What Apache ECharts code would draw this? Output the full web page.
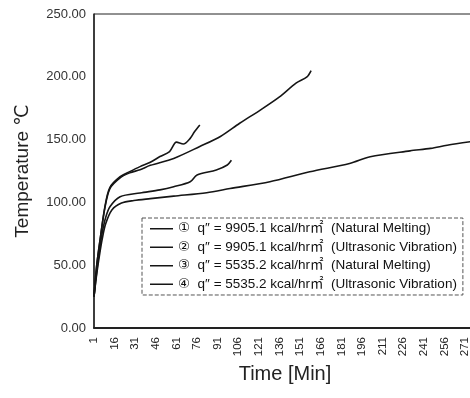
<!DOCTYPE html>
<html>
<head>
<meta charset="utf-8">
<script src="https://cdn.jsdelivr.net/npm/echarts@6/dist/echarts.min.js"></script>
<style>
  html, body { margin: 0; padding: 0; background: #fff; }
  #chart { width: 470px; height: 398px; }
</style>
</head>
<body>
<div id="chart"></div>
<script>
// minute ticks shown on the time axis
const timeTicks = [1, 16, 31, 46, 61, 76, 91, 106, 121, 136, 151, 166, 181, 196, 211, 226, 241, 256, 271]

// curve 1 : long upper curve
const t1 = [1, 3, 5.4, 9, 12.6, 20, 27, 34.5, 42, 59, 78, 93, 107, 122, 136, 148, 156, 159]
const v1 = [25, 50, 70, 96, 111, 119.5, 123.5, 126, 129.5, 135, 144.5, 152.5, 163, 173.5, 184, 195, 200, 205]

// curve 2 : short upper curve with bump
const t2 = [1, 3, 5.4, 9, 12.6, 20, 27, 34.5, 42, 49, 56, 61, 66, 71, 74, 78]
const v2 = [25, 50, 70, 97, 112, 120.5, 124.5, 128.5, 132, 136.5, 140.5, 148, 146.5, 151, 156, 161.6]

// curve 3 : long lower curve
const t3 = [1, 3, 5, 7, 9.5, 14, 21, 30, 42, 59, 83, 100, 129, 158, 187, 202, 231, 246, 258, 275]
const v3 = [25, 43, 58, 71, 83, 94, 99.5, 101.5, 103, 105, 107.7, 111, 116.5, 124.4, 131, 136.4, 141, 143, 145.5, 148.3]

// curve 4 : middle curve
const t4 = [1, 3, 5, 7, 9.5, 12.6, 20, 34.5, 49, 59, 71, 76, 90, 98, 101]
const v4 = [25, 45, 62, 76, 88, 96.5, 104.5, 107.5, 110, 112.5, 116.5, 121.8, 125.8, 129.8, 133.5]

const names = [
  '\u2460  q\u2033 = 9905.1 kcal/hr\u33A1  (Natural Melting)',
  '\u2461  q\u2033 = 9905.1 kcal/hr\u33A1  (Ultrasonic Vibration)',
  '\u2462  q\u2033 = 5535.2 kcal/hr\u33A1  (Natural Melting)',
  '\u2463  q\u2033 = 5535.2 kcal/hr\u33A1  (Ultrasonic Vibration)',
]

const pairs = (ts, vs) => ts.map((t, i) => [t, vs[i]])
const curves = [pairs(t1, v1), pairs(t2, v2), pairs(t3, v3), pairs(t4, v4)]

const chart = echarts.init(document.getElementById('chart'))

const font = 'Liberation Sans, Arial, DejaVu Sans, Noto Sans CJK SC, sans-serif'

chart.setOption({
  animation: false,
  backgroundColor: '#fff',
  textStyle: { fontFamily: font, color: '#222' },
  grid: {
    left: 94,
    right: -6,
    top: 14,
    bottom: 70,
    outerBoundsMode: 'none',
    show: true,
    borderColor: '#222',
    borderWidth: 1,
  },
  legend: {
    orient: 'vertical',
    left: 142,
    top: 218,
    padding: [4, 6, 4, 8],
    itemGap: 5,
    itemWidth: 23,
    itemHeight: 1.5,
    icon: 'rect',
    borderColor: '#555',
    borderWidth: 1,
    borderType: 'dashed',
    textStyle: { fontSize: 13.5, color: '#111', fontFamily: font },
    data: names,
  },
  xAxis: {
    type: 'value',
    min: 1,
    max: 279,
    name: 'Time [Min]',
    nameLocation: 'middle',
    nameGap: 36,
    nameTextStyle: { fontSize: 20, color: '#222' },
    splitLine: { show: false },
    axisLine: { lineStyle: { color: '#222', width: 2 } },
    axisTick: { show: false },
    axisLabel: {
      customValues: timeTicks,
      rotate: 90,
      fontSize: 11.5,
      color: '#222',
      margin: 9,
    },
  },
  yAxis: {
    type: 'value',
    min: 0,
    max: 250,
    interval: 50,
    name: 'Temperature \u2103',
    nameLocation: 'middle',
    nameRotate: 90,
    nameGap: 62,
    nameTextStyle: { fontSize: 19, color: '#222' },
    splitLine: { show: false },
    axisLine: { show: true, lineStyle: { color: '#222', width: 1.5 } },
    axisTick: { show: false },
    axisLabel: {
      fontSize: 13,
      color: '#333',
      margin: 8,
      formatter: (v) => v.toFixed(2),
    },
  },
  series: curves.map((d, i) => ({
    name: names[i],
    type: 'line',
    data: d,
    smooth: 0.3,
    showSymbol: false,
    lineStyle: { color: '#151515', width: 1.6 },
    itemStyle: { color: '#151515' },
  })),
})
</script>
</body>
</html>
